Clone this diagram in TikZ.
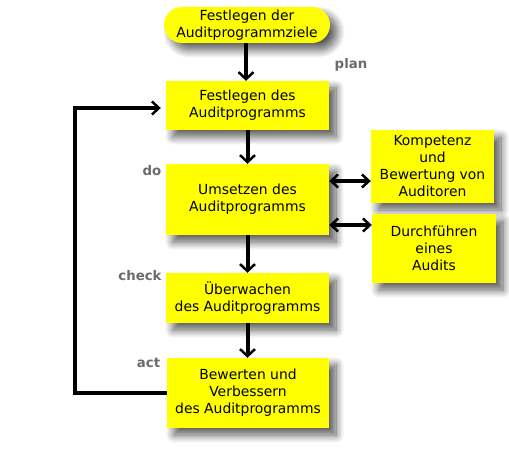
\documentclass[tikz,border=0pt]{standalone}
\usepackage{fontspec}
\setmainfont{DejaVu Sans}
\usetikzlibrary{arrows.meta,shadows.blur}
\definecolor{boxyellow}{HTML}{FFFF00}
\definecolor{lblgray}{HTML}{6B6B6B}
\tikzset{
  box/.style={draw=none, fill=boxyellow, align=center, inner sep=2pt,
    font=\fontsize{13.9}{17}\selectfont,
    blur shadow={shadow xshift=7pt, shadow yshift=-7pt, shadow blur radius=8pt, shadow blur steps=12, shadow opacity=65}},
  lbl/.style={font=\fontsize{13.3}{15}\selectfont\bfseries, text=lblgray},
  flow/.style={line width=4pt, -{Straight Barb[length=7pt,width=15pt,line width=2.5pt 0]}},
  dbl/.style={line width=4pt, {Straight Barb[length=7pt,width=13pt,line width=2.5pt 0]}-{Straight Barb[length=7pt,width=13pt,line width=2.5pt 0]}},
}
\begin{document}
\begin{tikzpicture}[x=1pt,y=-1pt]
\useasboundingbox (0,0) rectangle (509,449);
\node[box, minimum width=166pt, minimum height=36pt, rounded corners=18pt] (top) at (247,25) {Festlegen der\\Auditprogrammziele};
\node[box, minimum width=163pt, minimum height=49pt] (b2) at (247.5,105.5) {Festlegen des\\Auditprogramms};
\node[box, minimum width=163pt, minimum height=71pt] (b3) at (247.5,199.5) {Umsetzen des\\Auditprogramms};
\node[box, minimum width=163pt, minimum height=50pt] (b4) at (247.5,298) {Überwachen\\des Auditprogramms};
\node[box, minimum width=162pt, minimum height=70pt] (b5) at (248,393) {Bewerten und\\Verbessern\\des Auditprogramms};
\node[box, minimum width=123pt, minimum height=73pt] (bk) at (432.5,166.5) {Kompetenz\\und\\Bewertung von\\Auditoren};
\node[box, minimum width=124pt, minimum height=69pt] (bd) at (434,248.5) {Durchführen\\eines\\Audits};

\node[lbl] (lplan) at (351,65) {plan};
\node[lbl] (ldo) at (152,171) {do};
\node[lbl] (lcheck) at (140,276) {check};
\node[lbl] (lact) at (148.5,363) {act};

\coordinate (a0) at ([xshift=-1pt]top.south);
\draw[flow] (a0) -- (a0 |- b2.north);
\draw[flow] (b2.south) -- (b3.north);
\draw[flow] (b3.south) -- (b4.north);
\draw[flow] (b4.south) -- (b4.south |- b5.north);

\coordinate (d1) at ([yshift=18.5pt]b3.east);
\coordinate (d2) at ([yshift=-25.5pt]b3.east);
\draw[dbl] (d1) -- (d1 -| bk.west);
\draw[dbl] (d2) -- (d2 -| bd.west);

\coordinate (lp) at ([xshift=-92pt]b5.west);
\coordinate (le) at ([xshift=-5pt,yshift=-2.5pt]b2.west);
\draw[line width=4pt, -{Straight Barb[length=7pt,width=13pt,line width=2.5pt 0]}] (b5.west) -- (lp) |- (le);
\end{tikzpicture}
\end{document}
